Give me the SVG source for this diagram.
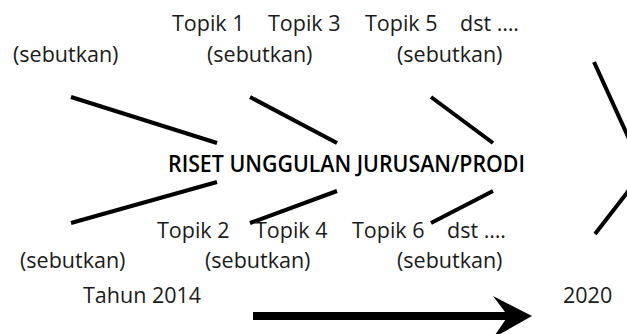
<svg xmlns="http://www.w3.org/2000/svg" width="627" height="334" viewBox="0 0 627 334">
<style>
text{font-family:"Open Sans","Noto Sans","Liberation Sans",sans-serif;font-size:21.5px;fill:#1a1a1a}
.title{font-weight:600;font-size:22.5px;fill:#000}
.ln{stroke:#000;stroke-width:4;stroke-linecap:butt;fill:none}
</style>
<rect width="627" height="334" fill="#fff"/>
<g id="connectors">
<line class="ln" x1="71" y1="97" x2="217" y2="143"/>
<line class="ln" x1="250" y1="97" x2="337" y2="143"/>
<line class="ln" x1="431" y1="97" x2="493" y2="143"/>
<line class="ln" x1="71" y1="223" x2="217" y2="182"/>
<line class="ln" x1="250" y1="223" x2="337" y2="191"/>
<line class="ln" x1="431" y1="223" x2="493" y2="191"/>
<line class="ln" x1="594" y1="62" x2="630" y2="141"/>
<line class="ln" x1="595" y1="234" x2="630" y2="189"/>
<rect x="253" y="312" width="258" height="8" fill="#000"/>
<polygon points="493,296 532,316 493,338 508,316" fill="#000"/>
</g>
<g id="center"><text class="title" x="168" y="172" textLength="357" lengthAdjust="spacingAndGlyphs">RISET UNGGULAN JURUSAN/PRODI</text></g>
<g id="top-topics">
<text x="172" y="31">Topik 1</text>
<text x="268" y="31">Topik 3</text>
<text x="365" y="31">Topik 5</text>
<text x="460" y="31">dst ….</text>
</g>
<g id="top-labels">
<text x="13" y="62">(sebutkan)</text>
<text x="207" y="62">(sebutkan)</text>
<text x="397" y="62">(sebutkan)</text>
</g>
<g id="bottom-topics">
<text x="157" y="238">Topik 2</text>
<text x="255" y="238">Topik 4</text>
<text x="352" y="238">Topik 6</text>
<text x="447" y="238">dst ….</text>
</g>
<g id="bottom-labels">
<text x="20" y="268">(sebutkan)</text>
<text x="205" y="268">(sebutkan)</text>
<text x="397" y="268">(sebutkan)</text>
</g>
<g id="timeline">
<text x="83" y="303">Tahun 2014</text>
<text x="563" y="303">2020</text>
</g>
</svg>
